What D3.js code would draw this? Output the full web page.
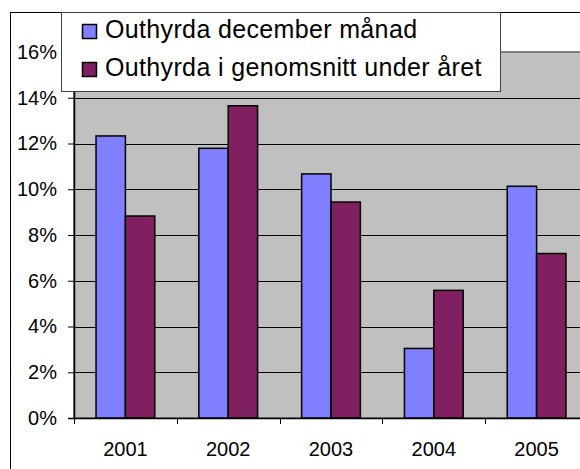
<!DOCTYPE html>
<html>
<head>
<meta charset="utf-8">
<script src="https://cdnjs.cloudflare.com/ajax/libs/d3/7.8.5/d3.min.js"></script>
<style>
    body { margin: 0; background: #fff; }
    svg { display: block; font-family: Arial, "Liberation Sans", sans-serif; }
</style>
</head>
<body>
<svg id="chart" width="580" height="469"></svg>
<script>
var years = ["2001", "2002", "2003", "2004", "2005"];
var seriesNames = ["Outhyrda december månad", "Outhyrda i genomsnitt under året"];
var december = [12.33, 11.79, 10.67, 3.04, 10.13];
var average = [8.83, 13.65, 9.44, 5.58, 7.19];
var yTicks = [0, 2, 4, 6, 8, 10, 12, 14, 16];
var colors = ["#8080ff", "#802060"];

var plot = {left: 74, right: 588, top: 52, bottom: 418};

var svg = d3.select("#chart");

var x = d3.scaleBand()
    .domain(years)
    .range([plot.left, plot.right]);

var x1 = d3.scaleBand()
    .domain([0, 1])
    .range([0, x.bandwidth()])
    .paddingOuter(0.75);

var y = d3.scaleLinear()
    .domain([0, 16])
    .range([plot.bottom, plot.top]);

// outer chart border
svg.append("rect")
    .attr("x", 10.5)
    .attr("y", 12.5)
    .attr("width", 600)
    .attr("height", 500)
    .attr("fill", "#fff")
    .attr("stroke", "#000");

// plot area
svg.append("rect")
    .attr("x", plot.left)
    .attr("y", plot.top)
    .attr("width", plot.right - plot.left)
    .attr("height", plot.bottom - plot.top)
    .attr("fill", "#c0c0c0")
    .attr("stroke", "#808080")
    .attr("stroke-width", 2);

svg.append("g")
    .selectAll("line")
    .data(yTicks.slice(1, -1))
    .enter()
    .append("line")
    .attr("x1", plot.left)
    .attr("x2", plot.right)
    .attr("y1", function(d) { return Math.round(y(d)) + 0.5; })
    .attr("y2", function(d) { return Math.round(y(d)) + 0.5; })
    .attr("stroke", "#000");

var data = years.map(function(yr, i) {
    return {year: yr, values: [december[i], average[i]]};
});

svg.append("g")
    .selectAll("g")
    .data(data)
    .enter()
    .append("g")
    .attr("transform", function(d) { return "translate(" + x(d.year) + ",0)"; })
    .selectAll("rect")
    .data(function(d) { return d.values; })
    .enter()
    .append("rect")
    .attr("x", function(d, i) { return x1(i); })
    .attr("y", function(d) { return y(d); })
    .attr("width", x1.bandwidth())
    .attr("height", function(d) { return y(0) - y(d); })
    .attr("fill", function(d, i) { return colors[i]; })
    .attr("stroke", "#000")
    .attr("stroke-width", 1.5);

var yAxis = d3.axisLeft(y)
    .tickValues(yTicks)
    .tickSize(6)
    .tickPadding(11)
    .tickFormat(function(d) { return d + "%"; });

svg.append("g")
    .attr("class", "y axis")
    .attr("transform", "translate(" + plot.left + ",0)")
    .call(yAxis);

var xAxis = d3.axisBottom(x)
    .tickSize(0)
    .tickPadding(24);

svg.append("g")
    .attr("class", "x axis")
    .attr("transform", "translate(0," + plot.bottom + ")")
    .call(xAxis);

// category separators below the axis
svg.append("g")
    .selectAll("line")
    .data(years)
    .enter()
    .append("line")
    .attr("x1", function(d) { return Math.round(x(d)) + 0.5; })
    .attr("x2", function(d) { return Math.round(x(d)) + 0.5; })
    .attr("y1", plot.bottom)
    .attr("y2", plot.bottom + 6)
    .attr("stroke", "#000");

svg.selectAll(".axis path.domain").attr("stroke", "#000").attr("stroke-width", 1.5);
svg.selectAll(".axis line").attr("stroke", "#000");
svg.selectAll(".axis text")
    .attr("fill", "#000")
    .style("font-size", "20px")
    .style("font-family", "Arial, 'Liberation Sans', sans-serif");

// legend
var legend = svg.append("g");

legend.append("rect")
    .attr("x", 61.5)
    .attr("y", 12.5)
    .attr("width", 439)
    .attr("height", 79)
    .attr("fill", "#fff")
    .attr("stroke", "#404040");

var items = legend.selectAll(".item")
    .data(seriesNames)
    .enter()
    .append("g")
    .attr("class", "item")
    .attr("transform", function(d, i) { return "translate(0," + (i * 38) + ")"; });

items.append("rect")
    .attr("x", 82.5)
    .attr("y", 24.5)
    .attr("width", 14)
    .attr("height", 14)
    .attr("fill", function(d, i) { return colors[i]; })
    .attr("stroke", "#000")
    .attr("stroke-width", 1.5);

items.append("text")
    .attr("x", 105)
    .attr("y", 38)
    .style("font-size", "25px")
    .style("letter-spacing", "0.35px")
    .attr("fill", "#000")
    .text(function(d) { return d; });
</script>
</body>
</html>
